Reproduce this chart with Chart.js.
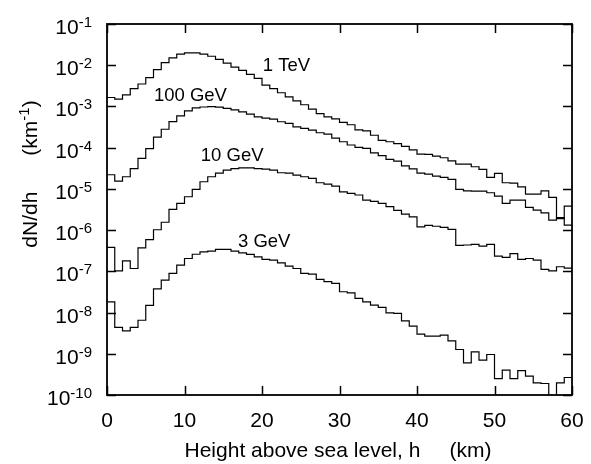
<!DOCTYPE html>
<html>
<head>
<meta charset="utf-8">
<script src="https://cdn.jsdelivr.net/npm/chart.js@4/dist/chart.umd.min.js"></script>
<style>
  html, body { margin: 0; padding: 0; background: #fff; }
  #chart { display: block; }
</style>
</head>
<body>
<canvas id="chart" width="591" height="464"></canvas>
<script>
'use strict';

// bin edges, km (1 km bins)
var heightKm = [0, 1, 2, 3, 4, 5, 6, 7, 8, 9, 10, 11, 12, 13, 14, 15, 16, 17, 18, 19,
	20, 21, 22, 23, 24, 25, 26, 27, 28, 29, 30, 31, 32, 33, 34, 35, 36, 37, 38, 39,
	40, 41, 42, 43, 44, 45, 46, 47, 48, 49, 50, 51, 52, 53, 54, 55, 56, 57, 58, 59, 60];

var tev1 = [
	1.65e-3, 1.5e-3, 1.9e-3, 2.7e-3, 3.5e-3, 5.0e-3, 7.8e-3, 1.15e-2, 1.5e-2, 1.85e-2,
	2.0e-2, 2.0e-2, 1.85e-2, 1.65e-2, 1.38e-2, 1.12e-2, 9.0e-3, 7.5e-3, 6.0e-3, 4.8e-3,
	3.3e-3, 2.7e-3, 2.15e-3, 1.7e-3, 1.37e-3, 1.1e-3, 8.6e-4, 6.7e-4, 5.6e-4, 5.0e-4,
	4.1e-4, 3.6e-4, 2.7e-4, 2.55e-4, 2.0e-4, 1.5e-4, 1.39e-4, 1.25e-4, 1.07e-4, 8.8e-5,
	7.0e-5, 6.9e-5, 6.25e-5, 5.7e-5, 4.8e-5, 4.0e-5, 4.0e-5, 3.44e-5, 2.97e-5, 1.9e-5,
	2.38e-5, 1.41e-5, 1.38e-5, 1.12e-5, 7.5e-6, 7.5e-6, 9.0e-6, 6.2e-6, 1.9e-6, 3.8e-6
];
var gev100 = [
	2.2e-5, 1.55e-5, 1.97e-5, 3.1e-5, 5.5e-5, 9.5e-5, 1.8e-4, 2.8e-4, 4.3e-4, 5.9e-4,
	7.8e-4, 9.2e-4, 9.7e-4, 9.9e-4, 9.6e-4, 9.0e-4, 8.3e-4, 7.4e-4, 6.5e-4, 5.6e-4,
	5.2e-4, 4.9e-4, 4.25e-4, 3.9e-4, 3.2e-4, 2.94e-4, 2.67e-4, 2.3e-4, 2.14e-4, 1.7e-4,
	1.39e-4, 1.16e-4, 1.02e-4, 9.6e-5, 7.5e-5, 6.4e-5, 5.2e-5, 4.7e-5, 3.6e-5, 3.05e-5,
	2.4e-5, 2.29e-5, 2.05e-5, 1.9e-5, 1.7e-5, 9.7e-6, 9.0e-6, 8.85e-6, 8.85e-6, 8.05e-6,
	6.7e-6, 4.45e-6, 5.35e-6, 5.35e-6, 3.55e-6, 3.05e-6, 2.63e-6, 1.75e-6, 2.0e-6, 1.32e-6
];
var gev10 = [
	3.8e-7, 1.03e-7, 1.8e-7, 1.17e-7, 3.7e-7, 5.9e-7, 1.02e-6, 1.55e-6, 3.2e-6, 4.45e-6,
	6.45e-6, 9.7e-6, 1.49e-5, 1.97e-5, 2.4e-5, 2.86e-5, 3.1e-5, 3.25e-5, 3.25e-5, 3.1e-5,
	3.0e-5, 2.86e-5, 2.46e-5, 2.4e-5, 2.16e-5, 1.97e-5, 1.8e-5, 1.41e-5, 1.31e-5, 1.17e-5,
	8.5e-6, 7.8e-6, 7.1e-6, 5.35e-6, 4.97e-6, 4.45e-6, 3.7e-6, 3.0e-6, 2.45e-6, 2.1e-6,
	1.2e-6, 1.3e-6, 1.24e-6, 1.16e-6, 1.04e-6, 4.25e-7, 4.35e-7, 4.5e-7, 4.1e-7, 4.5e-7,
	2.34e-7, 2.17e-7, 2.7e-7, 1.95e-7, 2.05e-7, 1.87e-7, 1.11e-7, 1.03e-7, 1.29e-7, 1.2e-7
];
var gev3 = [
	1.82e-8, 4.35e-9, 3.6e-9, 4.35e-9, 6.5e-9, 1.49e-8, 3.76e-8, 6.1e-8, 8.9e-8, 1.41e-7,
	2.05e-7, 2.6e-7, 2.98e-7, 3.1e-7, 3.4e-7, 3.4e-7, 3.1e-7, 2.8e-7, 2.57e-7, 2.25e-7,
	1.95e-7, 1.87e-7, 1.61e-7, 1.34e-7, 1.17e-7, 8.9e-8, 8.55e-8, 6.35e-8, 5.6e-8, 5.1e-8,
	3.2e-8, 3.0e-8, 2.2e-8, 1.82e-8, 1.51e-8, 1.33e-8, 9.8e-9, 9.5e-9, 6.3e-9, 4.7e-9,
	3.0e-9, 2.67e-9, 2.67e-9, 2.83e-9, 2.06e-9, 1.27e-9, 6.0e-10, 1.11e-9, 7.0e-10, 9.6e-10,
	2.5e-10, 4.0e-10, 2.5e-10, 3.9e-10, 2.86e-10, 1.97e-10, 1.9e-10, 5e-11, 1.97e-10, 2.66e-10
];

var seriesNames = ["1 TeV", "100 GeV", "10 GeV", "3 GeV"];
// where each curve's name sits, in data units (left edge, middle)
var labelX = [20.1, 6.05, 12.1, 16.9];
var labelY = [9.6e-3, 1.79e-3, 6.25e-5, 5.3e-7];

var xTicks = [0, 10, 20, 30, 40, 50, 60];
var yTickExps = [-1, -2, -3, -4, -5, -6, -7, -8, -9, -10];

var FONT = '"Liberation Sans", Arial, sans-serif';

function histo(vals) {
	// one point per left edge, last value repeated at the right edge
	return heightKm.map(function(x, i) {
		return { x: x, y: vals[Math.min(i, vals.length - 1)] };
	});
}

var framePlugin = {
	id: 'frame',
	afterDraw: function(chart) {
		var ctx = chart.ctx, a = chart.chartArea;
		var xs = chart.scales.x, ys = chart.scales.y;
		ctx.save();
		ctx.strokeStyle = '#000';
		ctx.fillStyle = '#000';
		ctx.lineWidth = 1.8;
		ctx.strokeRect(a.left, a.top, a.right - a.left, a.bottom - a.top);

		ctx.lineWidth = 1.5;
		ctx.beginPath();
		xTicks.forEach(function(v) {
			var px = Math.round(xs.getPixelForValue(v)) + 0.5;
			ctx.moveTo(px, a.bottom); ctx.lineTo(px, a.bottom - 9);
			ctx.moveTo(px, a.top); ctx.lineTo(px, a.top + 9);
		});
		yTickExps.forEach(function(e) {
			var py = Math.round(ys.getPixelForValue(Math.pow(10, e))) + 0.5;
			ctx.moveTo(a.left, py); ctx.lineTo(a.left + 9, py);
			ctx.moveTo(a.right, py); ctx.lineTo(a.right - 9, py);
		});
		ctx.stroke();

		// x tick labels
		ctx.font = '21px ' + FONT;
		ctx.textAlign = 'center';
		ctx.textBaseline = 'alphabetic';
		xTicks.forEach(function(v) {
			ctx.fillText(String(v), xs.getPixelForValue(v), a.bottom + 32);
		});

		// y tick labels 10^e
		yTickExps.forEach(function(e) {
			var py = ys.getPixelForValue(Math.pow(10, e));
			var sup = '-' + Math.abs(e);
			ctx.font = '15px ' + FONT;
			var supW = ctx.measureText(sup).width;
			ctx.font = '21px ' + FONT;
			var baseW = ctx.measureText('10').width;
			var right = a.left - 15;
			ctx.textAlign = 'left';
			ctx.fillText('10', right - supW - baseW, py + 10);
			ctx.font = '15px ' + FONT;
			ctx.fillText(sup, right - supW, py + 3);
		});

		// axis titles
		ctx.font = '21px ' + FONT;
		ctx.textAlign = 'center';
		ctx.fillText('Height above sea level, h     (km)', 338, 457);

		ctx.save();
		ctx.translate(37, 174);
		ctx.rotate(-Math.PI / 2);
		ctx.textAlign = 'left';
		ctx.font = '21px ' + FONT;
		var w1 = ctx.measureText('dN/dh').width;
		var gap = 36;
		var w2 = ctx.measureText('(km').width;
		ctx.font = '15px ' + FONT;
		var w3 = ctx.measureText('-1').width;
		ctx.font = '21px ' + FONT;
		var w4 = ctx.measureText(')').width;
		var x0 = -(w1 + gap + w2 + w3 + w4) / 2;
		ctx.fillText('dN/dh', x0, 0);
		ctx.fillText('(km', x0 + w1 + gap, 0);
		ctx.font = '15px ' + FONT;
		ctx.fillText('-1', x0 + w1 + gap + w2, -8);
		ctx.font = '21px ' + FONT;
		ctx.fillText(')', x0 + w1 + gap + w2 + w3, 0);
		ctx.restore();

		// curve names
		ctx.font = '18.5px ' + FONT;
		ctx.textAlign = 'left';
		ctx.textBaseline = 'middle';
		seriesNames.forEach(function(name, i) {
			ctx.fillText(name, xs.getPixelForValue(labelX[i]), ys.getPixelForValue(labelY[i]));
		});
		ctx.restore();
	}
};

function lineSet(vals) {
	return {
		data: histo(vals),
		stepped: true,
		borderColor: '#000',
		borderWidth: 1.2,
		pointRadius: 0,
		fill: false
	};
}

new Chart(document.getElementById('chart').getContext('2d'), {
	type: 'line',
	data: {
		datasets: [lineSet(tev1), lineSet(gev100), lineSet(gev10), lineSet(gev3)]
	},
	options: {
		responsive: false,
		animation: false,
		layout: { padding: { top: 24, right: 19, left: 0, bottom: 0 } },
		plugins: { legend: { display: false }, tooltip: { enabled: false } },
		scales: {
			x: {
				type: 'linear', min: 0, max: 60,
				ticks: { display: false },
				grid: { display: false },
				border: { display: false },
				afterFit: function(s) { s.height = 69; }
			},
			y: {
				type: 'logarithmic', min: 1e-10, max: 1e-1,
				ticks: { display: false },
				grid: { display: false },
				border: { display: false },
				afterFit: function(s) { s.width = 107; }
			}
		}
	},
	plugins: [framePlugin]
});
</script>
</body>
</html>
